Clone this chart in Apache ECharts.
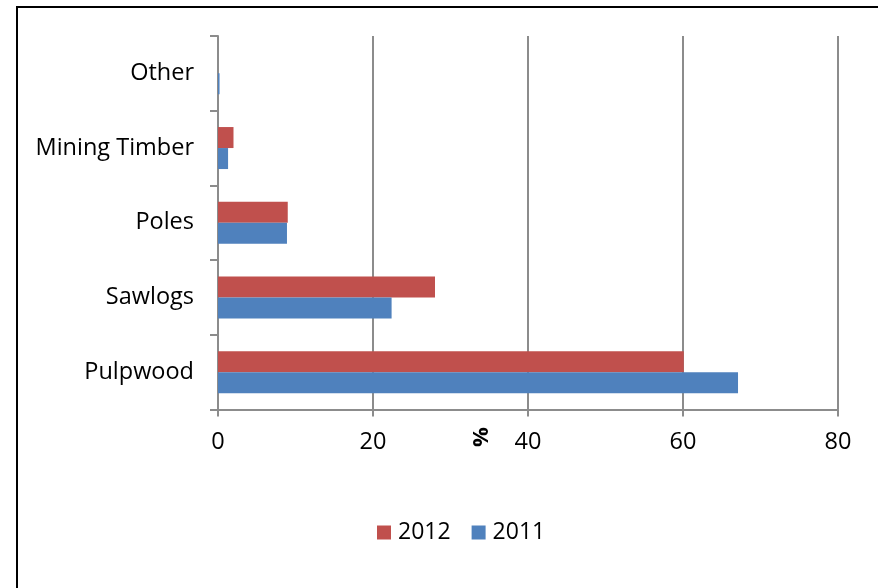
<!DOCTYPE html>
<html>
<head>
<meta charset="utf-8">
<script src="https://cdn.jsdelivr.net/npm/echarts@6/dist/echarts.min.js"></script>
<style>
  html, body { margin: 0; padding: 0; background: #fff; }
  #chart { width: 878px; height: 588px; }
</style>
</head>
<body>
<div id="chart"></div>
<script>
// data, bottom to top
const categories = ['Pulpwood', 'Sawlogs', 'Poles', 'Mining Timber', 'Other'];
const values2011 = [67.1, 22.4, 8.9, 1.3, 0.2];
const values2012 = [60.1, 28.0, 9.0, 2.0, 0];
const xTicks = { min: 0, max: 80, interval: 20 };

const FONT = 'Open Sans';
const gridColor = '#8c8c8c';

const chart = echarts.init(document.getElementById('chart'));

chart.setOption({
    animation: false,
    textStyle: { fontFamily: FONT },
    grid: { left: 218, right: 40, top: 36, bottom: 178.5 },
    legend: {
        data: ['2012', '2011'],
        left: 377, top: 521, padding: 0,
        itemWidth: 14, itemHeight: 14, itemGap: 21,
        icon: 'rect',
        textStyle: { fontFamily: FONT, fontSize: 23, color: '#000', padding: [0, 0, 0, 2] }
    },
    xAxis: {
        type: 'value',
        min: xTicks.min, max: xTicks.max, interval: xTicks.interval,
        axisLine: { show: true, lineStyle: { color: gridColor, width: 2 } },
        axisTick: { show: true, length: 7, lineStyle: { color: gridColor, width: 2 } },
        splitLine: { show: true, lineStyle: { color: gridColor, width: 2 } },
        axisLabel: { fontSize: 23.5, color: '#000', margin: 21, fontFamily: FONT }
    },
    yAxis: {
        type: 'category',
        data: categories,
        axisLine: { show: true, lineStyle: { color: gridColor, width: 2 } },
        axisTick: { show: true, length: 8, lineStyle: { color: gridColor, width: 2 } },
        axisLabel: { fontSize: 23.5, color: '#000', margin: 24, fontFamily: FONT }
    },
    series: [
        {
            name: '2012', type: 'bar', data: values2012,
            barWidth: 21, barGap: '0%',
            itemStyle: { color: '#C0504D' }
        },
        {
            name: '2011', type: 'bar', data: values2011,
            barWidth: 21, barGap: '0%',
            itemStyle: { color: '#4F81BD' }
        }
    ],
    graphic: [
        {
            type: 'rect', silent: true,
            shape: { x: 17, y: 7, width: 900, height: 600 },
            style: { fill: 'none', stroke: '#000', lineWidth: 2 }
        },
        {
            type: 'text', silent: true,
            x: 482, y: 437, rotation: Math.PI / 2,
            style: {
                text: '%', font: 'bold 22px ' + FONT, fill: '#000',
                align: 'center', verticalAlign: 'middle'
            }
        }
    ]
});
</script>
</body>
</html>
